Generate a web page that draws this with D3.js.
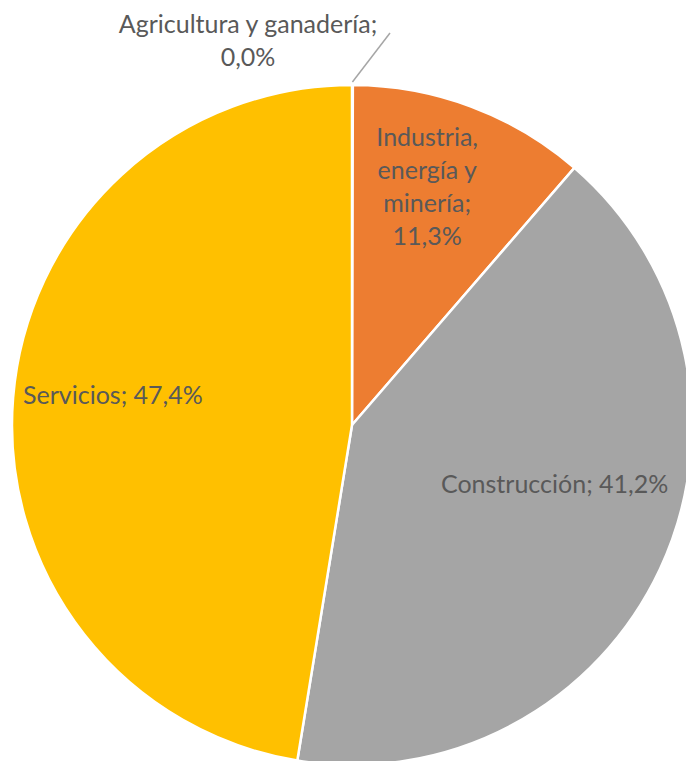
<!DOCTYPE html>
<html><head><meta charset="utf-8">
<script src="https://cdn.jsdelivr.net/npm/d3@7"></script>
<style>html,body{margin:0;padding:0;background:#fff;overflow:hidden}</style>
</head><body>
<svg id="c" width="686" height="761"></svg>
<script>
const categories = ["Agricultura y ganadería", "Industria, energía y minería", "Construcción", "Servicios"];
const values = [0.04, 11.3, 41.2, 47.4];
const valueLabels = ["0,0%", "11,3%", "41,2%", "47,4%"];
const colors = ["#4472C4", "#ED7D31", "#A5A5A5", "#FFC000"];

const W = 686, H = 761, cx = 352, cy = 425, R = 340;
const svg = d3.select("#c");
const g = svg.append("g").attr("transform", `translate(${cx},${cy})`);
const data = categories.map((c, i) => ({cat: c, value: values[i], label: valueLabels[i], color: colors[i]}));
const pie = d3.pie().value(d => d.value).sort(null);
const arc = d3.arc().innerRadius(0).outerRadius(R);
const arcs = pie(data);

g.selectAll("path").data(arcs).join("path")
  .attr("d", arc).attr("fill", d => d.data.color)
  .attr("stroke", "#fff").attr("stroke-width", 2.5).attr("stroke-linejoin", "round");

const font = "Lato, 'Open Sans', sans-serif";
const fs = 25;
const txtColor = "#595959";
// label layout: [angle (deg, clockwise from top), radius, lines]
const layout = [
  null,
  {a: 17.5, r: 250, lines: ["Industria,", "energía y", "minería;", "11,3%"]},
  {a: 106.2, r: 211, lines: ["Construcción; 41,2%"]},
  {a: 277.2, r: 241, lines: ["Servicios; 47,4%"]}
];
const lh = 33;
layout.forEach((L, i) => {
  if (!L) return;
  const rad = L.a * Math.PI / 180;
  const x = L.r * Math.sin(rad), y = -L.r * Math.cos(rad);
  const t = g.append("text").attr("text-anchor", "middle")
    .attr("font-family", font).attr("font-size", fs).attr("fill", txtColor);
  const n = L.lines.length;
  L.lines.forEach((ln, k) => {
    t.append("tspan").attr("x", x).attr("y", y + (k - (n - 1) / 2) * lh + fs * 0.35).text(ln);
  });
});

// Agricultura label with leader line
const a0 = arcs[0];
const mid0 = (a0.startAngle + a0.endAngle) / 2;
const ex = R * Math.sin(mid0), ey = -R * Math.cos(mid0);
g.append("line").attr("x1", ex).attr("y1", ey - 3).attr("x2", 390 - cx).attr("y2", 33 - cy)
  .attr("stroke", "#a6a6a6").attr("stroke-width", 1.5);
const ta = g.append("text").attr("text-anchor", "middle")
  .attr("font-family", font).attr("font-size", fs).attr("fill", txtColor);
ta.append("tspan").attr("x", 248 - cx).attr("y", 33 - cy).text(categories[0] + ";");
ta.append("tspan").attr("x", 248 - cx).attr("y", 66 - cy).text(valueLabels[0]);
</script>
</body></html>
